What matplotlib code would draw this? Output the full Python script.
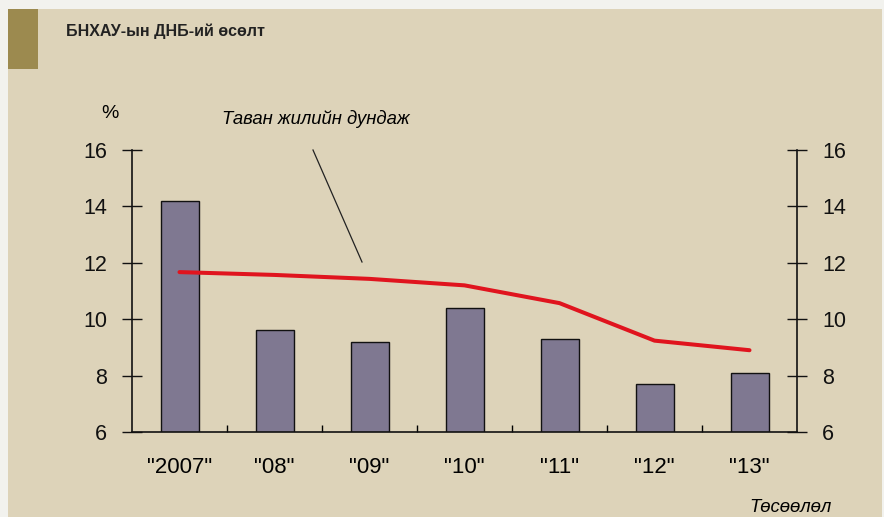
import matplotlib
matplotlib.use("Agg")
import matplotlib.pyplot as plt
from matplotlib.patches import Rectangle

categories = ['"2007"', '"08"', '"09"', '"10"', '"11"', '"12"', '"13"']
growth = [14.2, 9.6, 9.2, 10.4, 9.3, 7.7, 8.1]
five_year_avg = [11.67, 11.57, 11.43, 11.2, 10.57, 9.24, 8.9]
yticks = [6, 8, 10, 12, 14, 16]

plt.rcParams['font.family'] = ['Liberation Sans', 'DejaVu Sans']

W, H = 884, 517
fig = plt.figure(figsize=(W / 100, H / 100), dpi=100)
fig.patch.set_facecolor('#f2f2ee')

# background axes with beige panel and olive square
bg = fig.add_axes([0, 0, 1, 1], zorder=-10)
bg.set_xlim(0, W)
bg.set_ylim(H, 0)
bg.axis('off')
bg.add_patch(Rectangle((8, 9), 874, 520, facecolor='#ddd3b9', edgecolor='none'))
bg.add_patch(Rectangle((8, 9), 30, 60, facecolor='#9c8a4f', edgecolor='none'))
bg.text(66, 31, 'БНХАУ-ын ДНБ-ий өсөлт', fontsize=11.5,
        fontweight='bold', color='#222222', va='center', ha='left')
bg.text(110, 114, '%', fontsize=14, ha='center', va='center')
bg.text(222, 119, 'Таван жилийн дундаж', fontsize=13.3,
        style='italic', ha='left', va='center')
bg.plot([313, 362], [150, 262], color='#222222', lw=0.9)
bg.text(832, 507, 'Төсөөлөл', fontsize=13.3,
        style='italic', ha='right', va='center')

ax = fig.add_axes([132 / W, 85 / H, (797 - 132) / W, (432 - 150) / H], zorder=1)
ax.set_facecolor('none')
x = list(range(len(categories)))
ax.bar(x, growth, width=0.4, bottom=0, color='#7f7891', edgecolor='#111111',
       linewidth=1.0, zorder=2)
ax.plot(x, five_year_avg, color='#e0141e', linewidth=2.9, zorder=3,
        solid_capstyle='round')

ax.set_xlim(-0.5, len(categories) - 0.5)
ax.set_ylim(6, 16)
ax.set_yticks(yticks)
ax.set_yticklabels([str(v) for v in yticks])
ax.tick_params(axis='y', which='major', direction='inout', length=14, width=1.0,
               labelsize=15.5, colors='#111111', left=True, right=True,
               labelright=True, pad=11)
ax.set_xticks(x)
ax.set_xticklabels(categories, fontsize=16)
ax.tick_params(axis='x', which='major', length=0, pad=18)
ax.set_xticks([i + 0.5 for i in range(len(categories) - 1)], minor=True)
ax.tick_params(axis='x', which='minor', direction='in', length=5, width=1.0)
ax.spines['top'].set_visible(False)
for s in ['left', 'right', 'bottom']:
    ax.spines[s].set_linewidth(1.2)
    ax.spines[s].set_color('#111111')

fig.savefig('out.png', dpi=100, facecolor=fig.get_facecolor())
